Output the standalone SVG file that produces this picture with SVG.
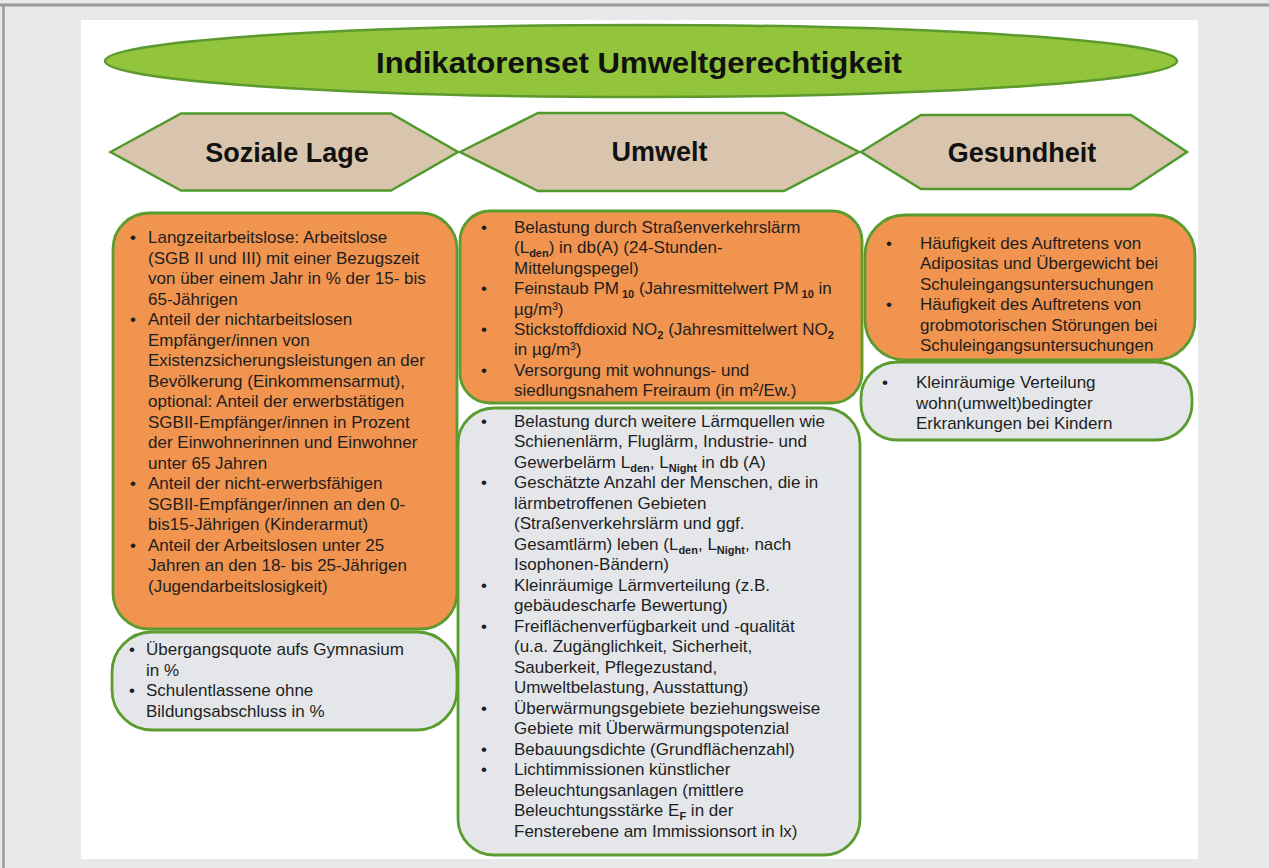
<svg xmlns="http://www.w3.org/2000/svg" width="1269" height="868" viewBox="0 0 1269 868">
<style>
.frame{fill:#e8e9eb}
.panel{fill:#ffffff}
.hex{fill:#d9c5ad;stroke:#4f9a2a;stroke-width:2.5}
.hext{font-family:"Liberation Sans",Arial,sans-serif;font-weight:bold;font-size:27px;fill:#111;text-anchor:middle}
.box{stroke:#5a9c2e;stroke-width:2.8}
.or{fill:#f09450}
.gr{fill:#e4e6ea}
.t{font-family:"Liberation Sans",Arial,sans-serif;font-size:17px;fill:#1e1e1e}
.sub{font-size:11px;font-weight:bold}
</style>
<rect class="frame" x="0" y="0" width="1269" height="868"/>
<line x1="0" y1="5" x2="1269" y2="5" stroke="#9a9a9a" stroke-width="3"/>
<line x1="3.5" y1="5" x2="3.5" y2="868" stroke="#9a9a9a" stroke-width="2.5"/>
<rect class="panel" x="81" y="20" width="1117" height="839"/>

<g id="title">
<ellipse cx="641" cy="61" rx="536" ry="36" fill="#92c43c" stroke="#5c9a2e" stroke-width="2.5"/>
<text x="639" y="73" text-anchor="middle" font-family="'Liberation Sans Narrow','Liberation Sans',Arial,sans-serif" font-weight="bold" font-size="29" fill="#111" textLength="526" lengthAdjust="spacingAndGlyphs">Indikatorenset Umweltgerechtigkeit</text>
</g>

<g id="hex-soziale-lage">
<polygon class="hex" points="110.5,152 181,113.5 391,113.5 458,152 391,190.5 181,190.5"/>
<text class="hext" x="287" y="162">Soziale Lage</text>
</g>
<g id="hex-umwelt">
<polygon class="hex" points="460,152 538,113 784,113 859,152 784,191 538,191"/>
<text class="hext" x="659.5" y="161">Umwelt</text>
</g>
<g id="hex-gesundheit">
<polygon class="hex" points="861,152 921,115 1131,115 1187,152 1131,189 921,189"/>
<text class="hext" x="1022" y="162">Gesundheit</text>
</g>

<g id="box-soziale-lage-kern">
<rect class="box or" x="113" y="213" width="344" height="416" rx="36" ry="36"/>
<text class="t">
<tspan x="130" y="243">•</tspan><tspan x="148" y="243">Langzeitarbeitslose:  Arbeitslose</tspan>
<tspan x="148" y="263.5">(SGB II und III) mit einer Bezugszeit</tspan>
<tspan x="148" y="284">von über einem Jahr in % der 15- bis</tspan>
<tspan x="148" y="304.5">65-Jährigen</tspan>
<tspan x="130" y="325">•</tspan><tspan x="148" y="325">Anteil der nichtarbeitslosen</tspan>
<tspan x="148" y="345.5">Empfänger/innen von</tspan>
<tspan x="148" y="366">Existenzsicherungsleistungen an der</tspan>
<tspan x="148" y="386.5">Bevölkerung (Einkommensarmut),</tspan>
<tspan x="148" y="407">optional: Anteil der erwerbstätigen</tspan>
<tspan x="148" y="427.5">SGBII-Empfänger/innen in Prozent</tspan>
<tspan x="148" y="448">der Einwohnerinnen und Einwohner</tspan>
<tspan x="148" y="468.5">unter 65 Jahren</tspan>
<tspan x="130" y="489">•</tspan><tspan x="148" y="489">Anteil der nicht-erwerbsfähigen</tspan>
<tspan x="148" y="509.5">SGBII-Empfänger/innen an den 0-</tspan>
<tspan x="148" y="530">bis15-Jährigen (Kinderarmut)</tspan>
<tspan x="130" y="550.5">•</tspan><tspan x="148" y="550.5">Anteil der Arbeitslosen unter 25</tspan>
<tspan x="148" y="571">Jahren an den 18- bis 25-Jährigen</tspan>
<tspan x="148" y="591.5">(Jugendarbeitslosigkeit)</tspan>
</text>
</g>

<g id="box-soziale-lage-erweitert">
<rect class="box gr" x="112" y="632" width="345" height="98" rx="40" ry="40"/>
<text class="t">
<tspan x="129" y="655">•</tspan><tspan x="146" y="655">Übergangsquote aufs Gymnasium</tspan>
<tspan x="146" y="675.5">in %</tspan>
<tspan x="129" y="696">•</tspan><tspan x="146" y="696">Schulentlassene ohne</tspan>
<tspan x="146" y="716.5">Bildungsabschluss in %</tspan>
</text>
</g>

<g id="box-umwelt-kern">
<rect class="box or" x="460" y="211" width="402" height="192" rx="30" ry="30"/>
<text class="t">
<tspan x="481" y="233">•</tspan><tspan x="514" y="233">Belastung durch Straßenverkehrslärm</tspan>
<tspan x="514" y="253.4">(L</tspan><tspan class="sub" dy="4">den</tspan><tspan dy="-4">) in db(A) (24-Stunden-</tspan>
<tspan x="514" y="273.8">Mittelungspegel)</tspan>
<tspan x="481" y="294.2">•</tspan><tspan x="514" y="294.2">Feinstaub PM</tspan><tspan class="sub" dy="4"> 10</tspan><tspan dy="-4">  (Jahresmittelwert PM</tspan><tspan class="sub" dy="4"> 10</tspan><tspan dy="-4"> in</tspan>
<tspan x="514" y="314.6">µg/m³)</tspan>
<tspan x="481" y="335">•</tspan><tspan x="514" y="335">Stickstoffdioxid NO</tspan><tspan class="sub" dy="4">2</tspan><tspan dy="-4"> (Jahresmittelwert NO</tspan><tspan class="sub" dy="4">2</tspan>
<tspan x="514" y="355.4">in µg/m³)</tspan>
<tspan x="481" y="375.8">•</tspan><tspan x="514" y="375.8">Versorgung mit wohnungs- und</tspan>
<tspan x="514" y="396.2">siedlungsnahem Freiraum (in m²/Ew.)</tspan>
</text>
</g>

<g id="box-umwelt-erweitert">
<rect class="box gr" x="458" y="408" width="402" height="447" rx="36" ry="36"/>
<text class="t">
<tspan x="481" y="426.5">•</tspan><tspan x="514" y="426.5">Belastung durch weitere Lärmquellen wie</tspan>
<tspan x="514" y="447">Schienenlärm, Fluglärm, Industrie- und</tspan>
<tspan x="514" y="467.5">Gewerbelärm L</tspan><tspan class="sub" dy="4">den</tspan><tspan dy="-4">, L</tspan><tspan class="sub" dy="4">Night</tspan><tspan dy="-4"> in db (A)</tspan>
<tspan x="481" y="488">•</tspan><tspan x="514" y="488">Geschätzte Anzahl der Menschen, die in</tspan>
<tspan x="514" y="508.5">lärmbetroffenen Gebieten</tspan>
<tspan x="514" y="529">(Straßenverkehrslärm und ggf.</tspan>
<tspan x="514" y="549.5">Gesamtlärm) leben (L</tspan><tspan class="sub" dy="4">den</tspan><tspan dy="-4">, L</tspan><tspan class="sub" dy="4">Night</tspan><tspan dy="-4">, nach</tspan>
<tspan x="514" y="570">Isophonen-Bändern)</tspan>
<tspan x="481" y="590.5">•</tspan><tspan x="514" y="590.5">Kleinräumige Lärmverteilung (z.B.</tspan>
<tspan x="514" y="611">gebäudescharfe Bewertung)</tspan>
<tspan x="481" y="631.5">•</tspan><tspan x="514" y="631.5">Freiflächenverfügbarkeit und -qualität</tspan>
<tspan x="514" y="652">(u.a. Zugänglichkeit, Sicherheit,</tspan>
<tspan x="514" y="672.5">Sauberkeit, Pflegezustand,</tspan>
<tspan x="514" y="693">Umweltbelastung, Ausstattung)</tspan>
<tspan x="481" y="713.5">•</tspan><tspan x="514" y="713.5">Überwärmungsgebiete beziehungsweise</tspan>
<tspan x="514" y="734">Gebiete mit Überwärmungspotenzial</tspan>
<tspan x="481" y="754.5">•</tspan><tspan x="514" y="754.5">Bebauungsdichte (Grundflächenzahl)</tspan>
<tspan x="481" y="775">•</tspan><tspan x="514" y="775">Lichtimmissionen künstlicher</tspan>
<tspan x="514" y="795.5">Beleuchtungsanlagen (mittlere</tspan>
<tspan x="514" y="816">Beleuchtungsstärke E</tspan><tspan class="sub" dy="4">F</tspan><tspan dy="-4"> in der</tspan>
<tspan x="514" y="836.5">Fensterebene am Immissionsort in lx)</tspan>
</text>
</g>

<g id="box-gesundheit-kern">
<rect class="box or" x="865" y="215" width="330" height="145" rx="40" ry="40"/>
<text class="t">
<tspan x="886" y="249">•</tspan><tspan x="920" y="249">Häufigkeit des Auftretens von</tspan>
<tspan x="920" y="269.4">Adipositas und Übergewicht bei</tspan>
<tspan x="920" y="289.8">Schuleingangsuntersuchungen</tspan>
<tspan x="886" y="310.2">•</tspan><tspan x="920" y="310.2">Häufigkeit des Auftretens von</tspan>
<tspan x="920" y="330.6">grobmotorischen Störungen bei</tspan>
<tspan x="920" y="351">Schuleingangsuntersuchungen</tspan>
</text>
</g>

<g id="box-gesundheit-erweitert">
<rect class="box gr" x="861" y="362" width="331" height="78" rx="36" ry="36"/>
<text class="t">
<tspan x="882" y="388">•</tspan><tspan x="916" y="388">Kleinräumige Verteilung</tspan>
<tspan x="916" y="408.5">wohn(umwelt)bedingter</tspan>
<tspan x="916" y="429">Erkrankungen bei Kindern</tspan>
</text>
</g>

<g id="connectors"/>
</svg>
